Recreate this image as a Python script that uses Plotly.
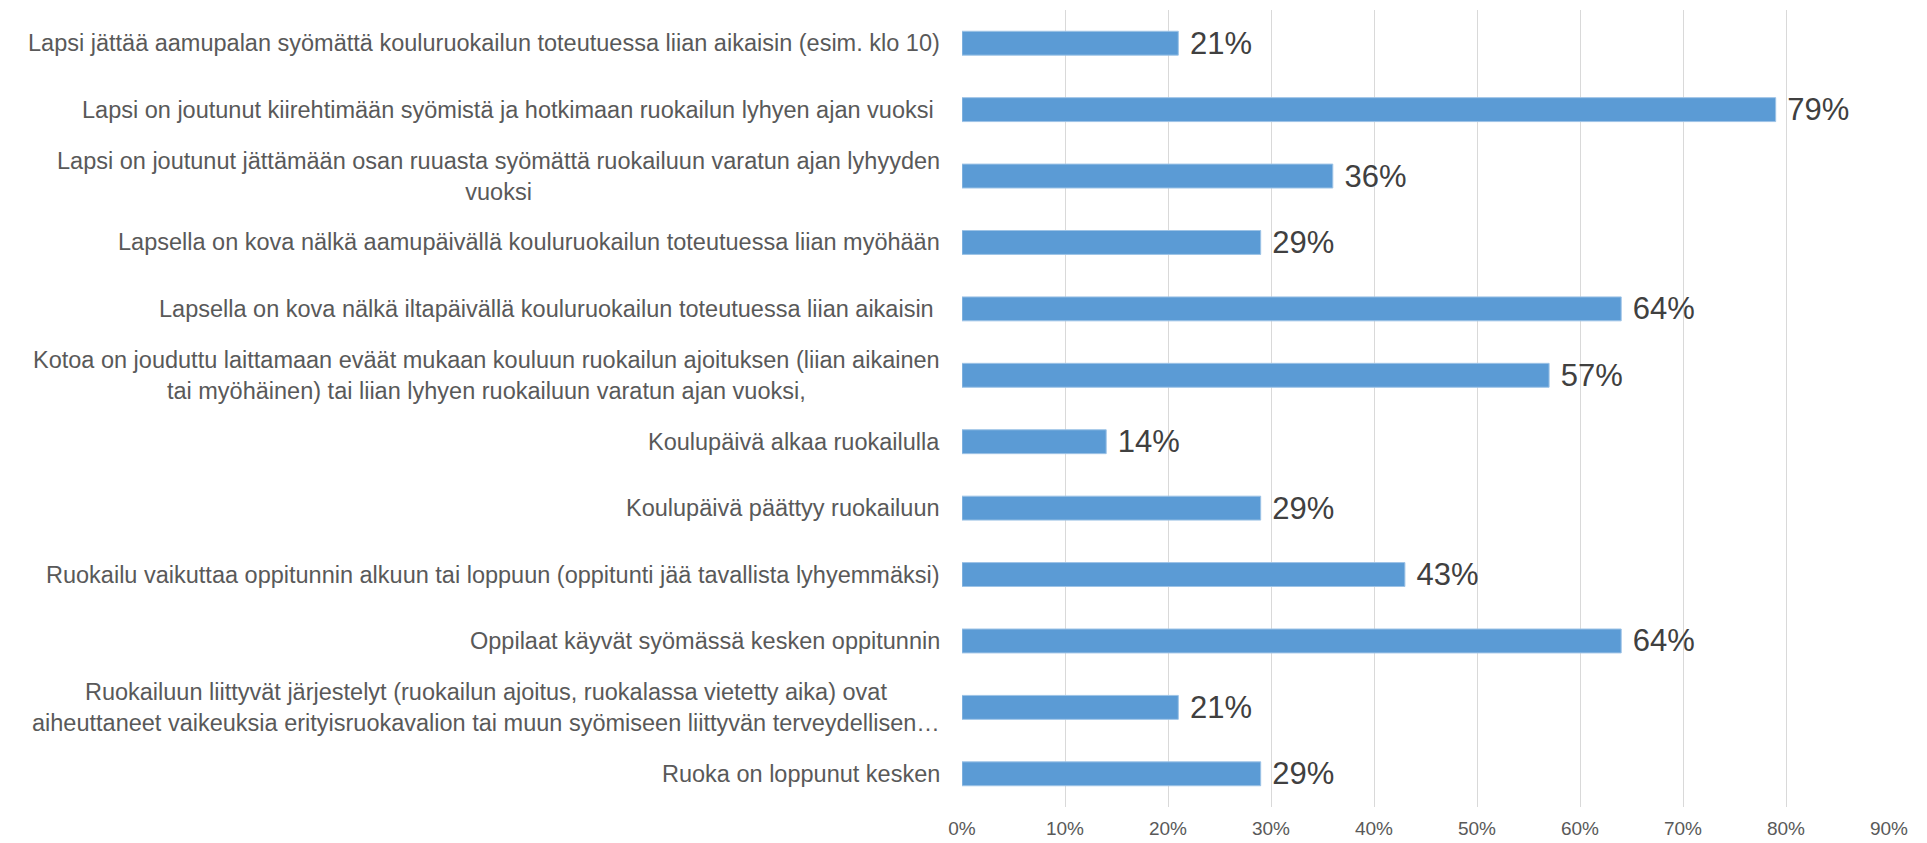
import plotly.graph_objects as go

# kysymysvaihtoehdot (ylhäältä alas) ja vastausten osuudet
labels = [
    "Lapsi jättää aamupalan syömättä kouluruokailun toteutuessa liian aikaisin (esim. klo 10)",
    "Lapsi on joutunut kiirehtimään syömistä ja hotkimaan ruokailun lyhyen ajan vuoksi ",
    "Lapsi on joutunut jättämään osan ruuasta syömättä ruokailuun varatun ajan lyhyyden<br>vuoksi",
    "Lapsella on kova nälkä aamupäivällä kouluruokailun toteutuessa liian myöhään",
    "Lapsella on kova nälkä iltapäivällä kouluruokailun toteutuessa liian aikaisin ",
    "Kotoa on jouduttu laittamaan eväät mukaan kouluun ruokailun ajoituksen (liian aikainen<br>tai myöhäinen) tai liian lyhyen ruokailuun varatun ajan vuoksi,",
    "Koulupäivä alkaa ruokailulla",
    "Koulupäivä päättyy ruokailuun",
    "Ruokailu vaikuttaa oppitunnin alkuun tai loppuun (oppitunti jää tavallista lyhyemmäksi)",
    "Oppilaat käyvät syömässä kesken oppitunnin",
    "Ruokailuun liittyvät järjestelyt (ruokailun ajoitus, ruokalassa vietetty aika) ovat<br>aiheuttaneet vaikeuksia erityisruokavalion tai muun syömiseen liittyvän terveydellisen…",
    "Ruoka on loppunut kesken",
]
values = [0.21, 0.79, 0.36, 0.29, 0.64, 0.57, 0.14, 0.29, 0.43, 0.64, 0.21, 0.29]
ids = list(range(len(labels)))

FONT = "Liberation Sans, Arial, sans-serif"

fig = go.Figure(go.Bar(
    x=values, y=ids, orientation="h",
    marker=dict(color="#5B9BD5", line=dict(color="#9DC3E6", width=1)),
    width=0.36,
    text=[f"\u00a0{round(v*100)}%" for v in values],
    textposition="outside",
    constraintext="none",
    textfont=dict(size=31, color="#404040", family=FONT),
    cliponaxis=False,
))

for i, lab in zip(ids, labels):
    fig.add_annotation(x=0, y=i, xref="x", yref="y", text=lab, showarrow=False,
                       xanchor="right", align="center", xshift=-20,
                       font=dict(size=23.5, color="#595959", family=FONT))

fig.update_xaxes(range=[0, 0.9], dtick=0.1, tickformat=".0%",
                 showgrid=True, gridcolor="#D9D9D9", gridwidth=1,
                 zeroline=False, showline=False,
                 tickfont=dict(size=19, color="#595959", family=FONT),
                 ticklabelstandoff=8)
fig.update_yaxes(autorange="reversed", showticklabels=False, showgrid=False,
                 zeroline=False)

# the page body adds 8px on the left/top, margins compensate for it
fig.update_layout(width=1927, height=843, plot_bgcolor="white", paper_bgcolor="white",
                  margin=dict(l=954, r=46, t=2, b=44), showlegend=False)

fig.write_html("out.html")
